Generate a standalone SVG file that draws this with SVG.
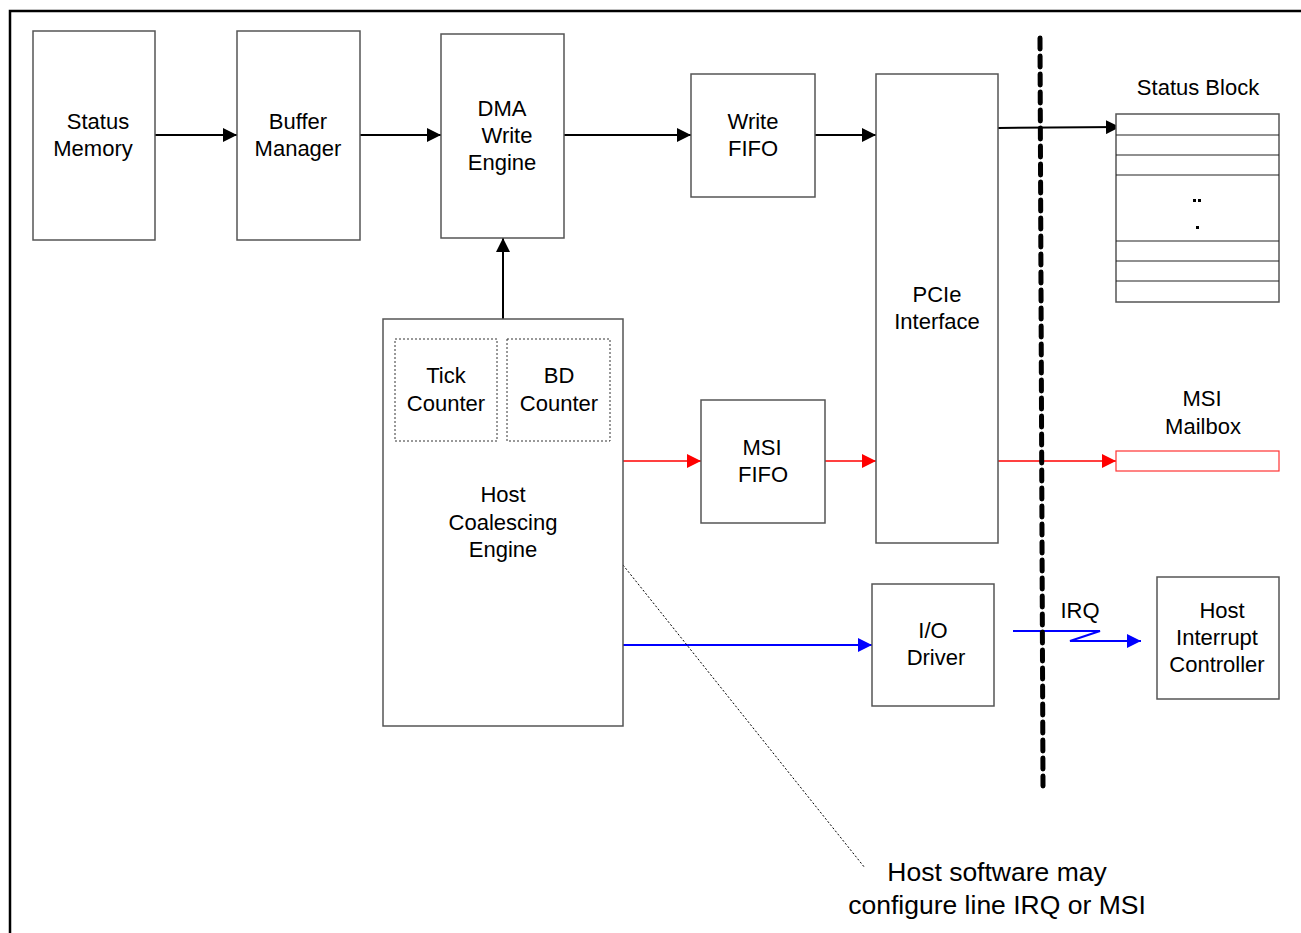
<svg xmlns="http://www.w3.org/2000/svg" width="1301" height="933" viewBox="0 0 1301 933">
<defs>
<style>
.box{fill:#fff;stroke:#555;stroke-width:1.5}
.dbox{fill:none;stroke:#333;stroke-width:1;stroke-dasharray:2,2}
text{font-family:"Liberation Sans",Arial,sans-serif;font-size:22px;fill:#000;text-anchor:middle}
.big{font-size:26.5px}
.k{stroke:#000;stroke-width:2;fill:none}
.r{stroke:#f00;stroke-width:1.5;fill:none}
.b{stroke:#00f;stroke-width:2;fill:none}
</style>
<marker id="ak" viewBox="0 0 10 10" refX="10" refY="5" markerWidth="14" markerHeight="14" markerUnits="userSpaceOnUse" orient="auto"><path d="M0,0L10,5L0,10z" fill="#000"/></marker>
<marker id="ar" viewBox="0 0 10 10" refX="10" refY="5" markerWidth="14" markerHeight="14" markerUnits="userSpaceOnUse" orient="auto"><path d="M0,0L10,5L0,10z" fill="#f00"/></marker>
<marker id="ab" viewBox="0 0 10 10" refX="10" refY="5" markerWidth="14" markerHeight="14" markerUnits="userSpaceOnUse" orient="auto"><path d="M0,0L10,5L0,10z" fill="#00f"/></marker>
</defs>
<rect width="1301" height="933" fill="#fff"/>
<path d="M10,940V11H1310" stroke="#000" stroke-width="2.5" fill="none"/>

<g id="connectors">
<line class="k" x1="155" y1="135" x2="237" y2="135" marker-end="url(#ak)"/>
<line class="k" x1="360" y1="135" x2="441" y2="135" marker-end="url(#ak)"/>
<line class="k" x1="564" y1="135" x2="691" y2="135" marker-end="url(#ak)"/>
<line class="k" x1="815" y1="135" x2="876" y2="135" marker-end="url(#ak)"/>
<line class="k" x1="998" y1="128" x2="1120" y2="127" marker-end="url(#ak)"/>
<line class="k" x1="503" y1="319" x2="503" y2="238" marker-end="url(#ak)"/>
<line class="r" x1="623" y1="461" x2="701" y2="461" marker-end="url(#ar)"/>
<line class="r" x1="825" y1="461" x2="876" y2="461" marker-end="url(#ar)"/>
<line class="r" x1="998" y1="461" x2="1116" y2="461" marker-end="url(#ar)"/>
<line class="b" x1="623" y1="645" x2="872" y2="645" marker-end="url(#ab)"/>
<path class="b" d="M1013,631H1100L1070,641H1141" stroke-width="1.8" marker-end="url(#ab)"/>
<line x1="623" y1="565" x2="865" y2="868" stroke="#000" stroke-width="1" stroke-dasharray="2,2"/>
<line x1="1040" y1="38" x2="1043" y2="786" stroke="#000" stroke-width="5" stroke-dasharray="11,7" stroke-linecap="round"/>
</g>

<g id="status-memory"><rect class="box" x="33" y="31" width="122" height="209"/><text x="98" y="129">Status</text><text x="93" y="156">Memory</text></g>
<g id="buffer-manager"><rect class="box" x="237" y="31" width="123" height="209"/><text x="298" y="129">Buffer</text><text x="298" y="156">Manager</text></g>
<g id="dma-write-engine"><rect class="box" x="441" y="34" width="123" height="204"/><text x="502" y="116">DMA</text><text x="507" y="143">Write</text><text x="502" y="170">Engine</text></g>
<g id="write-fifo"><rect class="box" x="691" y="74" width="124" height="123"/><text x="753" y="129">Write</text><text x="753" y="156">FIFO</text></g>
<g id="pcie-interface"><rect class="box" x="876" y="74" width="122" height="469"/><text x="937" y="302">PCIe</text><text x="937" y="329">Interface</text></g>
<g id="status-block">
<text x="1198" y="95">Status Block</text>
<rect class="box" x="1116" y="114" width="163" height="188"/>
<path d="M1116,135H1279M1116,155H1279M1116,175H1279M1116,241H1279M1116,261H1279M1116,281H1279" stroke="#222" stroke-width="1.2"/>
<rect x="1193" y="199" width="3" height="3"/><rect x="1198" y="199" width="3" height="3"/><rect x="1196" y="226" width="3" height="3"/>
</g>
<g id="msi-mailbox"><text x="1202" y="406">MSI</text><text x="1203" y="434">Mailbox</text><rect x="1116" y="451" width="163" height="20" fill="#fff" stroke="#f33" stroke-width="1.2"/></g>
<g id="host-coalescing-engine"><rect class="box" x="383" y="319" width="240" height="407"/><text x="503" y="502">Host</text><text x="503" y="530">Coalescing</text><text x="503" y="557">Engine</text></g>
<g id="tick-counter"><rect class="dbox" x="395" y="339" width="102" height="102"/><text x="446" y="383">Tick</text><text x="446" y="411">Counter</text></g>
<g id="bd-counter"><rect class="dbox" x="507" y="339" width="103" height="102"/><text x="559" y="383">BD</text><text x="559" y="411">Counter</text></g>
<g id="msi-fifo"><rect class="box" x="701" y="400" width="124" height="123"/><text x="762" y="455">MSI</text><text x="763" y="482">FIFO</text></g>
<g id="io-driver"><rect class="box" x="872" y="584" width="122" height="122"/><text x="933" y="638">I/O</text><text x="936" y="665">Driver</text></g>
<g id="irq-label"><text x="1080" y="618">IRQ</text></g>
<g id="host-interrupt-controller"><rect class="box" x="1157" y="577" width="122" height="122"/><text x="1222" y="618">Host</text><text x="1217" y="645">Interrupt</text><text x="1217" y="672">Controller</text></g>
<g id="note"><text class="big" x="997" y="881">Host software may</text><text class="big" x="997" y="914">configure line IRQ or MSI</text></g>
</svg>
